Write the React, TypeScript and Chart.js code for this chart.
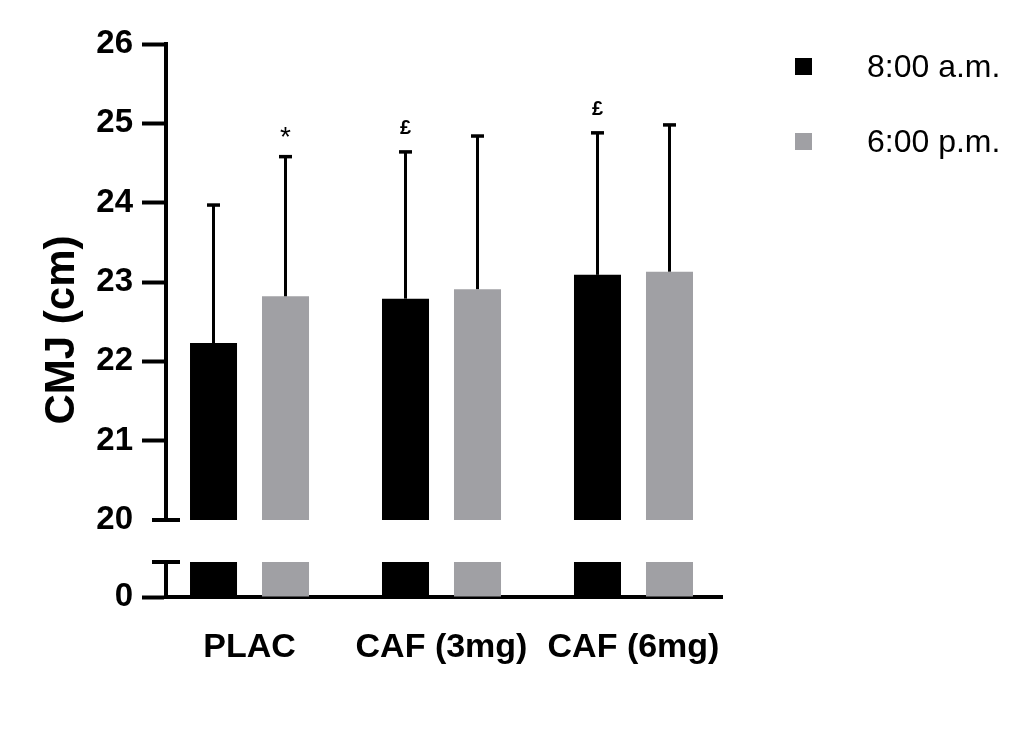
import React, { useEffect, useRef } from "react";
import { Chart, registerables } from "chart.js";

Chart.register(...registerables);

// ---- data ----
const categories = ["PLAC", "CAF (3mg)", "CAF (6mg)"];
const seriesNames = ["8:00 a.m.", "6:00 p.m."];
const amMeans = [22.23, 22.79, 23.09];
const amSD = [1.74, 1.85, 1.79];
const pmMeans = [22.82, 22.91, 23.13];
const pmSD = [1.76, 1.93, 1.85];
const amMarks = ["", "£", "£"];
const pmMarks = ["*", "", ""];
const topTicks = [20, 21, 22, 23, 24, 25, 26];
const bottomTicks = [0];
const yTitle = "CMJ (cm)";

// ---- styles ----
const COLORS = ["#000000", "#a0a0a4"];
const FONT = "'Liberation Sans', Arial, Helvetica, sans-serif";

const means = [amMeans, pmMeans];
const sds = [amSD, pmSD];
const marks = [amMarks, pmMarks];

function makeDatasets() {
  return means.map((m, d) => ({
    label: seriesNames[d],
    data: m.map((v, i) => ({ x: i, y: v })),
    backgroundColor: COLORS[d],
    borderWidth: 0,
    categoryPercentage: 0.75,
    barPercentage: 0.653,
    clip: 0,
  }));
}

function xScale(show: boolean): any {
  return {
    type: "linear",
    display: show,
    offset: false,
    min: -0.435,
    max: 2.461,
    afterBuildTicks: (s: any) => {
      s.ticks = categories.map((_, i) => ({ value: i }));
    },
    afterFit: (s: any) => {
      if (show) s.height = 155;
    },
    grid: { display: false, drawTicks: false, offset: false },
    border: { display: show, width: 4, color: "#000" },
    ticks: {
      autoSkip: false,
      maxRotation: 0,
      minRotation: 0,
      padding: 30,
      color: "#000",
      font: { family: FONT, size: 34, weight: "bold" },
      callback: (v: any) => categories[Math.round(Number(v))] ?? "",
    },
  };
}

function yScale(min: number, max: number, tickVals: number[]): any {
  return {
    type: "linear",
    min,
    max,
    afterBuildTicks: (s: any) => {
      s.ticks = tickVals.map((v) => ({ value: v }));
    },
    afterFit: (s: any) => {
      s.width = 166;
    },
    grid: {
      drawOnChartArea: false,
      tickLength: 24,
      tickWidth: 4,
      tickColor: (ctx: any) =>
        ctx.tick && ctx.tick.value === 20 ? "rgba(0,0,0,0)" : "#000",
    },
    border: { width: 4, color: "#000" },
    ticks: {
      padding: 9,
      color: "#000",
      font: { family: FONT, size: 33, weight: "bold" },
    },
  };
}

const axisBreakPlugin = {
  id: "axisBreak",
  afterDraw(chart: any, _args: any, opts: any) {
    const { ctx, chartArea } = chart;
    const y = opts.edge === "bottom" ? chartArea.bottom : chartArea.top;
    const x = chartArea.left;
    ctx.save();
    ctx.strokeStyle = "#000";
    ctx.lineWidth = 4;
    ctx.beginPath();
    ctx.moveTo(x - 14, y);
    ctx.lineTo(x + 14, y);
    ctx.stroke();
    ctx.restore();
  },
};

const errorBarPlugin = {
  id: "errorBars",
  afterDatasetsDraw(chart: any) {
    const { ctx } = chart;
    const ys = chart.scales.y;
    chart.data.datasets.forEach((_ds: any, d: number) => {
      const meta = chart.getDatasetMeta(d);
      meta.data.forEach((bar: any, i: number) => {
        const top = ys.getPixelForValue(means[d][i] + sds[d][i]);
        ctx.save();
        ctx.strokeStyle = "#000";
        ctx.lineWidth = 3;
        ctx.beginPath();
        ctx.moveTo(bar.x, bar.y);
        ctx.lineTo(bar.x, top);
        ctx.stroke();
        ctx.lineWidth = 3.5;
        ctx.beginPath();
        ctx.moveTo(bar.x - 6.5, top);
        ctx.lineTo(bar.x + 6.5, top);
        ctx.stroke();
        const m = marks[d][i];
        if (m) {
          ctx.font = m === "*" ? `28px ${FONT}` : `bold 20px ${FONT}`;
          ctx.fillStyle = "#000";
          ctx.textAlign = "center";
          ctx.textBaseline = "alphabetic";
          const mt = ctx.measureText(m);
          const cy = top - 25;
          ctx.fillText(
            m,
            bar.x,
            cy + (mt.actualBoundingBoxAscent - mt.actualBoundingBoxDescent) / 2
          );
        }
        ctx.restore();
      });
    });
  },
};

const yTitlePlugin = {
  id: "yTitle",
  afterDraw(chart: any) {
    const { ctx } = chart;
    ctx.save();
    ctx.translate(74, 330);
    ctx.rotate(-Math.PI / 2);
    ctx.font = `bold 42px ${FONT}`;
    ctx.fillStyle = "#000";
    ctx.textAlign = "center";
    ctx.textBaseline = "alphabetic";
    ctx.fillText(yTitle, 0, 0);
    ctx.restore();
  },
};

export default function App() {
  const topRef = useRef<HTMLCanvasElement>(null);
  const botRef = useRef<HTMLCanvasElement>(null);

  useEffect(() => {
    const common: any = {
      responsive: false,
      animation: false,
      devicePixelRatio: 1,
      events: [],
    };
    const top = new Chart(topRef.current as HTMLCanvasElement, {
      type: "bar",
      data: { datasets: makeDatasets() as any },
      options: {
        ...common,
        layout: { padding: { top: 44, bottom: 40, left: 0, right: 302 } },
        scales: { x: xScale(false), y: yScale(20, 26, topTicks) },
        plugins: {
          legend: { display: false },
          tooltip: { enabled: false },
          axisBreak: { edge: "bottom" },
        } as any,
      },
      plugins: [axisBreakPlugin, errorBarPlugin, yTitlePlugin],
    });
    const bot = new Chart(botRef.current as HTMLCanvasElement, {
      type: "bar",
      data: { datasets: makeDatasets() as any },
      options: {
        ...common,
        layout: { padding: { top: 32, bottom: 0, left: 0, right: 302 } },
        scales: { x: xScale(true), y: yScale(0, 1, bottomTicks) },
        plugins: {
          legend: { display: false },
          tooltip: { enabled: false },
          axisBreak: { edge: "top" },
        } as any,
      },
      plugins: [axisBreakPlugin],
    });
    return () => {
      top.destroy();
      bot.destroy();
    };
  }, []);

  return (
    <div
      style={{
        position: "absolute",
        left: 0,
        top: 0,
        width: 1024,
        height: 752,
        background: "#fff",
        overflow: "hidden",
      }}
    >
      <canvas
        ref={topRef}
        width={1024}
        height={560}
        style={{ position: "absolute", left: 0, top: 0 }}
      />
      <canvas
        ref={botRef}
        width={1024}
        height={222}
        style={{ position: "absolute", left: 0, top: 530 }}
      />
      {seriesNames.map((name, i) => (
        <React.Fragment key={name}>
          <div
            style={{
              position: "absolute",
              left: 795,
              top: 58 + i * 75,
              width: 17,
              height: 17,
              background: COLORS[i],
            }}
          />
          <div
            style={{
              position: "absolute",
              left: 867,
              top: 46 + i * 75,
              fontFamily: FONT,
              fontSize: 32,
              lineHeight: "40px",
              whiteSpace: "nowrap",
              color: "#000",
            }}
          >
            {name}
          </div>
        </React.Fragment>
      ))}
    </div>
  );
}
